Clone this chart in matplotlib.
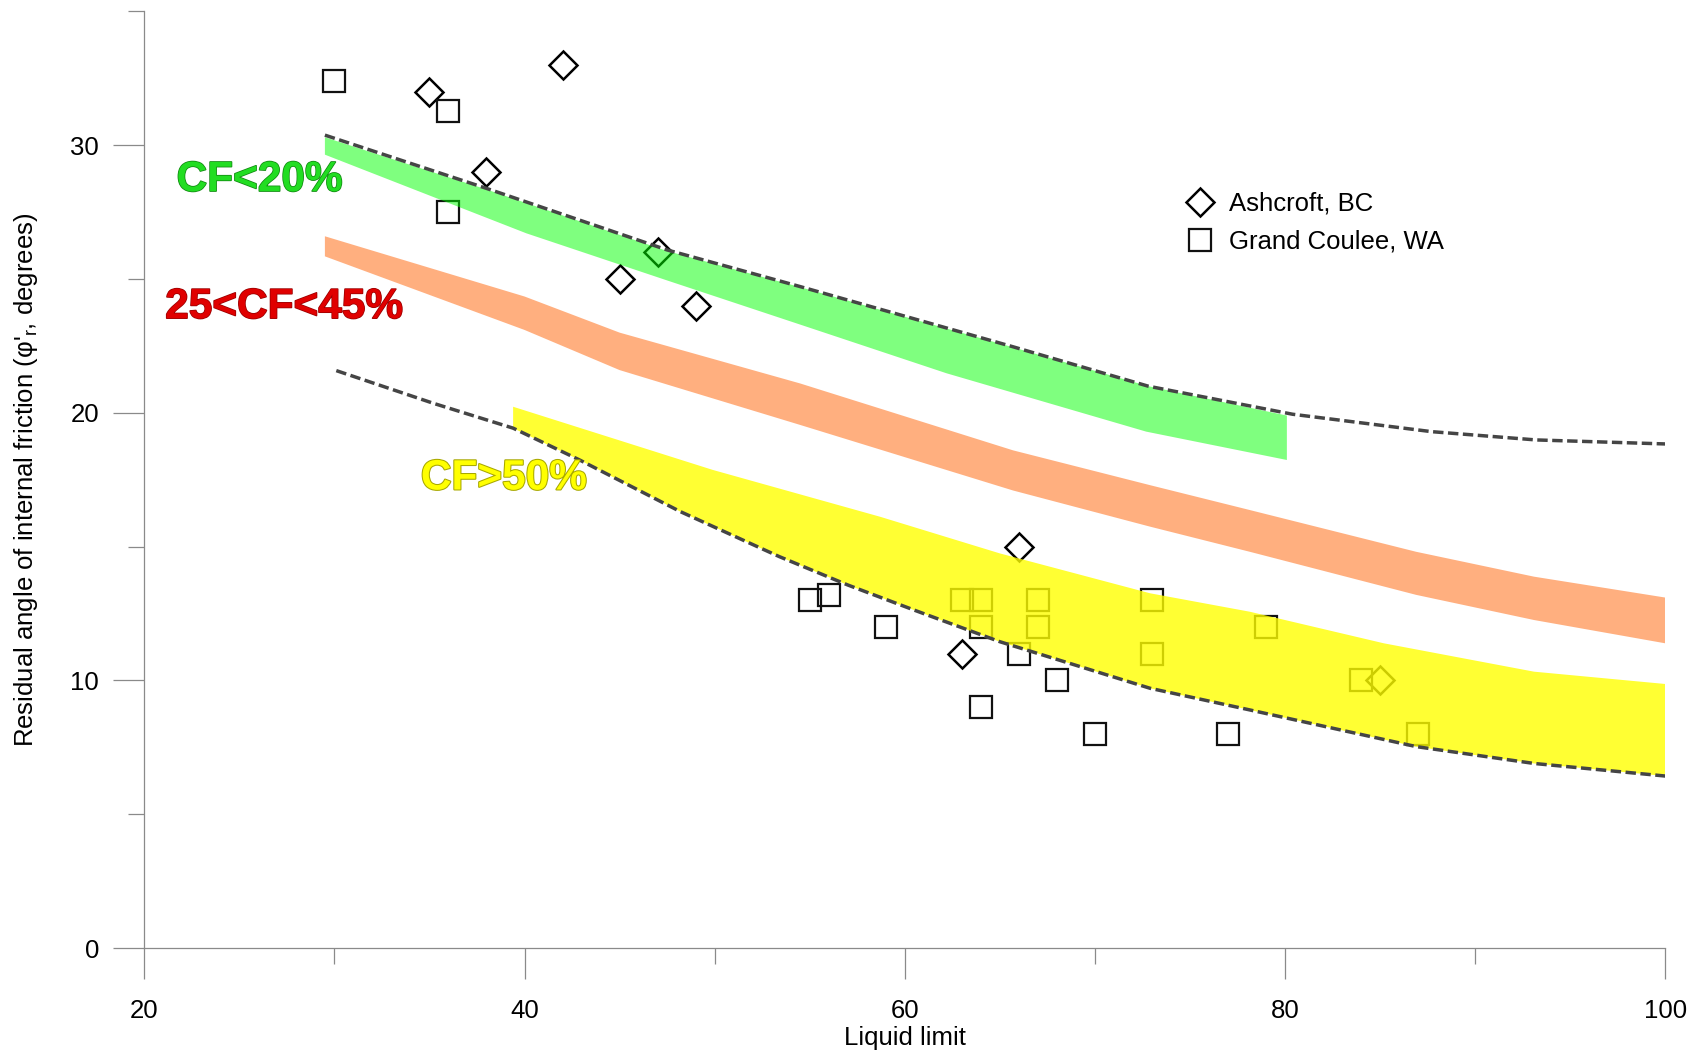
import numpy as np
import matplotlib
matplotlib.use("Agg")
import matplotlib.pyplot as plt
import matplotlib.patheffects as pe
from matplotlib.lines import Line2D

plt.rcParams['font.family'] = ['Liberation Sans', 'DejaVu Sans']
plt.rcParams['mathtext.fontset'] = 'custom'
plt.rcParams['mathtext.rm'] = 'Liberation Sans'
plt.rcParams['mathtext.it'] = 'Liberation Sans'
plt.rcParams['mathtext.default'] = 'regular'

# ---- data ----
ash_x = [35, 42, 38, 45, 47, 49, 66, 63, 85]
ash_y = [32, 33, 29, 25, 26, 24, 15, 11, 10]

gc_x = [30, 36, 36, 55, 56, 59, 63, 64, 64, 64, 66, 67, 67, 68, 70, 73, 73, 77, 79, 84, 87]
gc_y = [32.4, 31.3, 27.5, 13, 13.2, 12, 13, 13, 12, 9, 11, 13, 12, 10, 8, 13, 11, 8, 12, 10, 8]

upper_dash_x = [29.5, 38, 47.5, 54.5, 65.7, 72.8, 80.4, 87.7, 93.2, 100]
upper_dash_y = [30.38, 28.39, 26.09, 24.72, 22.47, 21.0, 19.95, 19.3, 18.99, 18.84]

lower_dash_x = [30.1, 35.2, 39.4, 42.9, 48.2, 53.4, 57, 60.5, 65, 72.9, 78.15, 86.9, 93.1, 100]
lower_dash_y = [21.58, 20.36, 19.43, 18.24, 16.31, 14.63, 13.57, 12.63, 11.45, 9.71, 8.9, 7.53, 6.9, 6.43]

green_top_x = [29.5, 38, 47.5, 54.5, 65.7, 72.8, 80.1]
green_top_y = [30.3, 28.35, 26.05, 24.7, 22.45, 21.0, 19.9]
green_bot_x = [29.5, 40.1, 47.5, 54.5, 62.2, 72.7, 80.1]
green_bot_y = [29.65, 26.71, 24.95, 23.3, 21.48, 19.3, 18.24]

orange_x = [29.5, 40, 45, 54.5, 65.7, 72.9, 78.15, 86.9, 93.1, 100]
orange_top_y = [26.6, 24.35, 23.0, 21.1, 18.6, 17.3, 16.37, 14.81, 13.88, 13.1]
orange_bot_y = [25.85, 23.1, 21.6, 19.55, 17.1, 15.75, 14.81, 13.2, 12.26, 11.39]

yellow_top_x = [39.4, 49.9, 58.7, 65, 72.9, 78.15, 85.2, 93.1, 100]
yellow_top_y = [20.23, 17.87, 16.12, 14.75, 13.26, 12.57, 11.39, 10.33, 9.87]
yellow_bot_x = [39.4, 42.9, 48.2, 53.4, 57, 60.5, 65, 72.9, 78.15, 86.9, 93.1, 100]
yellow_bot_y = [19.43, 18.24, 16.31, 14.63, 13.57, 12.63, 11.45, 9.71, 8.9, 7.53, 6.9, 6.43]

x_ticks = [20, 40, 60, 80, 100]
y_ticks = [0, 10, 20, 30]

# ---- figure ----
fig = plt.figure(figsize=(17.01, 10.55), dpi=100)
ax = fig.add_axes([0.08483, 0.10133, 0.89412, 0.88777])

ax.set_xlim(20, 100)
ax.set_ylim(0, 35)

# markers (below bands)
ax.plot(ash_x, ash_y, linestyle='none', marker='D', markersize=14.5,
        markerfacecolor='none', markeredgecolor='black', markeredgewidth=1.8, zorder=2)
ax.plot(gc_x, gc_y, linestyle='none', marker='s', markersize=16.5,
        markerfacecolor='none', markeredgecolor='#111111', markeredgewidth=1.6, zorder=2)

def band(xt, yt, xb, yb, color, alpha):
    px = np.concatenate([np.asarray(xt, float), np.asarray(xb, float)[::-1]])
    py = np.concatenate([np.asarray(yt, float), np.asarray(yb, float)[::-1]])
    ax.fill(px, py, color=color, alpha=alpha, lw=0, zorder=3)

band(green_top_x, green_top_y, green_bot_x, green_bot_y, '#00ff00', 0.5)
band(orange_x, orange_top_y, orange_x, orange_bot_y, '#ff6000', 0.5)
band(yellow_top_x, yellow_top_y, yellow_bot_x, yellow_bot_y, '#ffff00', 0.8)

for xs, ys in [(upper_dash_x, upper_dash_y), (lower_dash_x, lower_dash_y)]:
    ax.plot(xs, ys, color='#454545', lw=2.5, dashes=[3.0, 1.3],
            dash_capstyle='butt', solid_joinstyle='round', zorder=4)

# region labels
ax.text(21.7, 28.7, 'CF<20%', color='#22dd22', fontsize=30.5, fontweight='bold',
        va='center', ha='left', zorder=5,
        path_effects=[pe.withStroke(linewidth=1.1, foreground='#118811')])
ax.text(21.1, 23.95, '25<CF<45%', color='#e00000', fontsize=30.5, fontweight='bold',
        va='center', ha='left', zorder=5,
        path_effects=[pe.withStroke(linewidth=1.1, foreground='#990000')])
ax.text(34.55, 17.55, 'CF>50%', color='#ffff00', fontsize=30.5, fontweight='bold',
        va='center', ha='left', zorder=5,
        path_effects=[pe.withStroke(linewidth=1.5, foreground='#a8a800')])

# axes styling
for s in ['top', 'right']:
    ax.spines[s].set_visible(False)
for s in ['left', 'bottom']:
    ax.spines[s].set_color('#8a8a8a')
    ax.spines[s].set_linewidth(0.9)

ax.set_xticks(x_ticks)
ax.set_xticks([30, 50, 70, 90], minor=True)
ax.set_yticks(y_ticks)
ax.set_yticks([5, 15, 25, 35], minor=True)
ax.tick_params(which='major', direction='out', length=22.5, width=0.9,
               color='#8a8a8a', labelsize=18.5)
ax.tick_params(which='minor', direction='out', length=11.5, width=0.9,
               color='#8a8a8a')
ax.tick_params(axis='x', which='major', pad=14)
ax.tick_params(axis='y', which='major', pad=10)

ax.set_xlabel('Liquid limit', fontsize=18.5, labelpad=2)
ax.set_ylabel("Residual angle of internal friction (φ$'_r$, degrees)", fontsize=18.5, labelpad=22)

handles = [Line2D([], [], linestyle='none', marker='D', markersize=14.5,
                  markerfacecolor='none', markeredgecolor='black', markeredgewidth=1.8),
           Line2D([], [], linestyle='none', marker='s', markersize=16.5,
                  markerfacecolor='none', markeredgecolor='#111111', markeredgewidth=1.6)]
fig.legend(handles, ['Ashcroft, BC', 'Grand Coulee, WA'], loc='upper left',
           bbox_to_anchor=(1187 / 1701, 1 - 192 / 1055), frameon=False,
           fontsize=18.5, handlelength=1.0, handletextpad=0.62,
           borderpad=0, borderaxespad=0, labelspacing=0.53)

fig.savefig('out.png', dpi=100)
